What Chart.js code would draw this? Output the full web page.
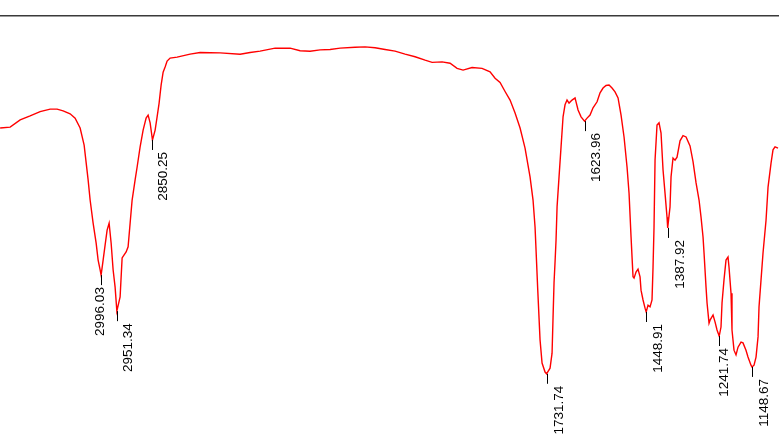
<!DOCTYPE html>
<html lang="en">
    <head>
        <meta charset="UTF-8" />
        <title>IR Spectrum</title>
        <script src="https://cdn.jsdelivr.net/npm/chart.js@4.4.0/dist/chart.umd.min.js"></script>
        <style>
            body { margin: 0; background: #fff; }
            #wrapper { width: 779px; height: 445px; }
        </style>
    </head>
    <body>
        <div id="wrapper">
            <canvas id="canvas" width="779" height="445"></canvas>
        </div>
        <script>
            // wavenumber (cm-1) and transmittance (%)
            let wavenumbers = [
                3282.6, 3254.2, 3225.8, 3197.5, 3169.1, 3140.7, 3120.9, 3103.8, 3084.0, 3069.8,
                3055.6, 3044.2, 3032.9, 3027.2, 3018.7, 3010.2, 3004.5, 2998.8, 2996.03, 2990.3,
                2984.7, 2979.0, 2973.3, 2967.6, 2961.9, 2956.3, 2951.34, 2942.1, 2936.4, 2930.7,
                2925.0, 2919.4, 2913.7, 2908.0, 2899.5, 2893.8, 2885.3, 2876.8, 2868.3, 2862.6,
                2856.9, 2850.25, 2842.7, 2837.1, 2831.4, 2828.6, 2825.7, 2820.0, 2814.4, 2808.7,
                2800.2, 2780.3, 2743.4, 2715.0, 2658.3, 2601.5, 2573.2, 2544.8, 2502.2, 2459.6,
                2431.3, 2402.9, 2374.5, 2346.1, 2317.7, 2275.2, 2246.8, 2218.4, 2190.0, 2161.7,
                2133.3, 2104.9, 2076.5, 2056.6, 2028.3, 2005.6, 1985.7, 1968.7, 1943.2, 1914.8,
                1892.1, 1877.9, 1863.7, 1849.5, 1835.3, 1821.1, 1806.9, 1792.8, 1778.6, 1770.1,
                1764.4, 1761.6, 1756.7, 1750.2, 1744.5, 1736.0, 1731.74, 1721.8, 1716.1, 1713.3,
                1710.5, 1707.6, 1704.8, 1701.9, 1696.3, 1690.6, 1684.9, 1679.3, 1673.6, 1667.9,
                1659.4, 1650.9, 1642.3, 1633.8, 1623.96, 1616.8, 1608.3, 1599.8, 1588.4, 1579.9,
                1571.4, 1562.9, 1554.4, 1545.9, 1537.4, 1528.8, 1520.3, 1511.8, 1503.3, 1497.6,
                1491.9, 1489.1, 1486.3, 1483.4, 1477.8, 1472.1, 1466.4, 1463.6, 1457.9, 1452.2,
                1448.91, 1443.7, 1438.0, 1432.4, 1429.5, 1426.7, 1423.8, 1418.2, 1412.5, 1406.8,
                1401.1, 1395.5, 1389.8, 1387.92, 1381.3, 1378.4, 1372.8, 1367.1, 1361.4, 1352.9,
                1344.4, 1335.8, 1324.5, 1315.9, 1307.4, 1298.9, 1293.3, 1287.6, 1284.8, 1279.1,
                1276.2, 1270.6, 1267.7, 1259.2, 1253.6, 1247.9, 1241.74, 1236.6, 1233.7, 1228.1,
                1222.4, 1216.7, 1213.9, 1208.2, 1205.4, 1199.7, 1194.0, 1188.3, 1179.8, 1174.2,
                1165.7, 1160.0, 1151.5, 1148.67, 1142.9, 1137.2, 1131.5, 1128.7, 1123.0, 1117.3,
                1108.8, 1103.1, 1094.6, 1089.0, 1083.3, 1074.8
            ];
            let transmittance = [
                73.9, 74.1, 75.8, 76.7, 77.7, 78.3, 78.3, 77.9, 77.2, 76.2,
                73.9, 69.9, 61.8, 57.1, 51.7, 47.1, 43.1, 40.8, 39.6, 43.1,
                46.6, 50.1, 51.7, 47.1, 40.8, 36.8, 31.2, 34.5, 43.6, 44.3,
                45.0, 46.2, 51.7, 57.1, 61.8, 64.8, 69.5, 73.4, 76.2, 76.9,
                75.1, 71.1, 73.4, 76.5, 79.7, 81.8, 83.9, 86.9, 88.1, 89.5,
                90.2, 90.4, 91.1, 91.5, 91.4, 91.1, 91.5, 91.8, 92.5, 92.5,
                91.9, 91.8, 92.1, 92.2, 92.5, 92.7, 92.8, 92.6, 92.2, 91.8,
                91.1, 90.5, 89.7, 89.2, 89.3, 89.0, 87.8, 87.4, 88.0, 87.8,
                87.0, 85.5, 84.5, 82.4, 80.4, 77.4, 73.9, 69.2, 62.5, 57.1,
                50.8, 45.5, 36.1, 24.5, 19.1, 17.0, 16.6, 17.9, 21.4, 29.8,
                37.8, 42.7, 47.8, 55.5, 62.5, 69.5, 76.5, 79.3, 80.4, 79.7,
                80.4, 80.9, 78.1, 76.5, 75.5, 76.2, 76.9, 78.6, 80.0, 82.1,
                83.2, 83.8, 83.9, 83.2, 82.3, 80.9, 76.9, 71.8, 64.8, 58.7,
                48.5, 43.8, 39.2, 38.9, 40.3, 41.0, 39.2, 36.1, 33.8, 31.9,
                31.0, 32.6, 32.2, 33.8, 41.5, 50.8, 66.4, 74.6, 75.1, 72.7,
                64.1, 58.7, 53.1, 50.6, 55.5, 62.5, 66.9, 66.4, 67.1, 70.9,
                72.1, 71.8, 69.7, 66.0, 61.1, 57.1, 53.1, 48.5, 44.8, 36.8,
                33.1, 28.4, 29.1, 30.3, 28.7, 26.8, 25.4, 27.5, 33.1, 38.5,
                43.1, 43.8, 41.5, 35.4, 26.8, 22.1, 21.0, 22.8, 24.0, 23.8,
                22.1, 20.5, 18.6, 18.2, 18.6, 20.5, 25.2, 32.2, 38.5, 44.8,
                52.4, 60.1, 65.7, 68.8, 69.5, 69.2
            ];
            let peakLabels = ['2996.03', '2951.34', '2850.25', '1731.74', '1623.96', '1448.91', '1387.92', '1241.74', '1148.67'];
            // horizontal shift of each label's text relative to its leader (px)
            let labelShift = [-8, 4, 4, 5, 4, 5, 5, -2, 5];

            let points = [];
            for (let i = 0; i < wavenumbers.length; i++) {
                points.push({x: wavenumbers[i], y: transmittance[i]});
            }

            // writes the peak wavenumbers under each minimum
            let peakLabelPlugin = {
                id: 'peakLabels',
                afterDatasetsDraw: function(chart) {
                    let ctx = chart.ctx;
                    let meta = chart.getDatasetMeta(0);
                    ctx.save();
                    ctx.strokeStyle = '#000';
                    ctx.lineWidth = 1;
                    ctx.fillStyle = '#000';
                    ctx.font = '13.5px "Liberation Sans", Arial, sans-serif';
                    peakLabels.forEach(function(label, k) {
                        let idx = wavenumbers.indexOf(parseFloat(label));
                        if (idx < 0) return;
                        let pt = meta.data[idx];
                        let px = Math.round(pt.x) + 0.5;
                        let py = pt.y;
                        ctx.beginPath();
                        ctx.moveTo(px, py);
                        ctx.lineTo(px, py + 10);
                        ctx.stroke();
                        ctx.save();
                        ctx.translate(px + labelShift[k], py + 12);
                        ctx.rotate(-Math.PI / 2);
                        ctx.textAlign = 'right';
                        ctx.textBaseline = 'top';
                        ctx.fillText(label, 0, 0);
                        ctx.restore();
                    });
                    ctx.restore();
                }
            };

            let options = {
                type: 'line',
                data: {
                    datasets: [{
                        data: points,
                        borderColor: '#ff0000',
                        borderWidth: 1.4,
                        pointRadius: 0,
                        tension: 0,
                        fill: false
                    }]
                },
                options: {
                    responsive: false,
                    animation: false,
                    layout: { padding: { top: 16, left: 0, right: 0, bottom: 0 } },
                    plugins: {
                        legend: { display: false },
                        tooltip: { enabled: false }
                    },
                    scales: {
                        x: {
                            type: 'linear',
                            position: 'top',
                            reverse: true,
                            min: 1072,
                            max: 3283,
                            ticks: { display: false },
                            grid: { display: true, drawOnChartArea: false, drawTicks: false },
                            border: { display: true, color: '#3a3a3a', width: 1.5 }
                        },
                        y: {
                            display: false,
                            min: 0,
                            max: 100
                        }
                    }
                },
                plugins: [peakLabelPlugin]
            };
            let chart1 = new Chart(document.getElementById('canvas'), options);
        </script>
    </body>
</html>
